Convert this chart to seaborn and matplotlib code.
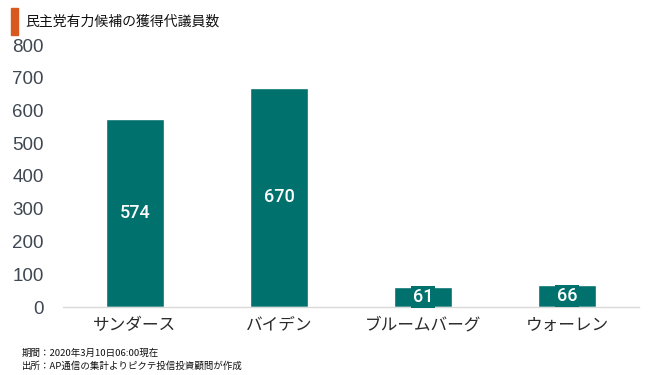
import matplotlib
matplotlib.use("Agg")
import matplotlib.pyplot as plt
import seaborn as sns
import pandas as pd

categories = ["サンダース", "バイデン", "ブルームバーグ", "ウォーレン"]
delegates = [574, 670, 61, 66]
yticks = [0, 100, 200, 300, 400, 500, 600, 700, 800]
title = "民主党有力候補の獲得代議員数"
notes = ["期間：2020年3月10日06:00現在", "出所：AP通信の集計よりピクテ投信投資顧問が作成"]

sns.set_theme(style="white")
plt.rcParams['font.family'] = ['Noto Sans CJK JP', 'DejaVu Sans']

bar_color = "#00716D"
df = pd.DataFrame({"name": categories, "value": delegates})

fig = plt.figure(figsize=(6.5, 3.75), dpi=100)
ax = fig.add_axes([63 / 650, 1 - 307 / 375, 576 / 650, 262 / 375])
sns.barplot(data=df, x="name", y="value", color=bar_color, width=0.4,
            saturation=1, ax=ax)

ax.set_ylim(0, 800)
ax.set_xlim(-0.5, 3.5)
ax.set_yticks(yticks)
ax.set_yticklabels([str(t) for t in yticks], fontsize=13.5, color="#3F4752",
                   family=['Liberation Sans', 'DejaVu Sans'])
ax.tick_params(axis='y', length=0, pad=14)
ax.tick_params(axis='x', length=0, labelsize=12, labelcolor="#2a2a2a", pad=7)
ax.set_xlabel("")
ax.set_ylabel("")
for s in ["top", "right", "left"]:
    ax.spines[s].set_visible(False)
ax.spines["bottom"].set_color("#d9d9d9")
ax.spines["bottom"].set_linewidth(1.0)

for i, v in enumerate(delegates):
    ax.text(i, v / 2, str(v), ha="center", va="center",
            color="white", fontsize=13, family=['Roboto', 'DejaVu Sans'],
            fontweight="medium",
            bbox=dict(boxstyle="square,pad=0.12", fc=bar_color, ec="none"))

# title with orange marker
fig.patches.append(plt.Rectangle((11 / 650, 1 - 35 / 375), 7 / 650, 27 / 375,
                                 transform=fig.transFigure, color="#D9581E"))
fig.text(25 / 650, 1 - 22 / 375, title, fontsize=10, color="#111111",
         va="center", ha="left")

fig.text(22 / 650, 1 - 353 / 375, notes[0], fontsize=6.8, color="#111111",
         va="center", ha="left")
fig.text(22 / 650, 1 - 366 / 375, notes[1], fontsize=6.8, color="#111111",
         va="center", ha="left")

fig.savefig("out.png", dpi=100)
